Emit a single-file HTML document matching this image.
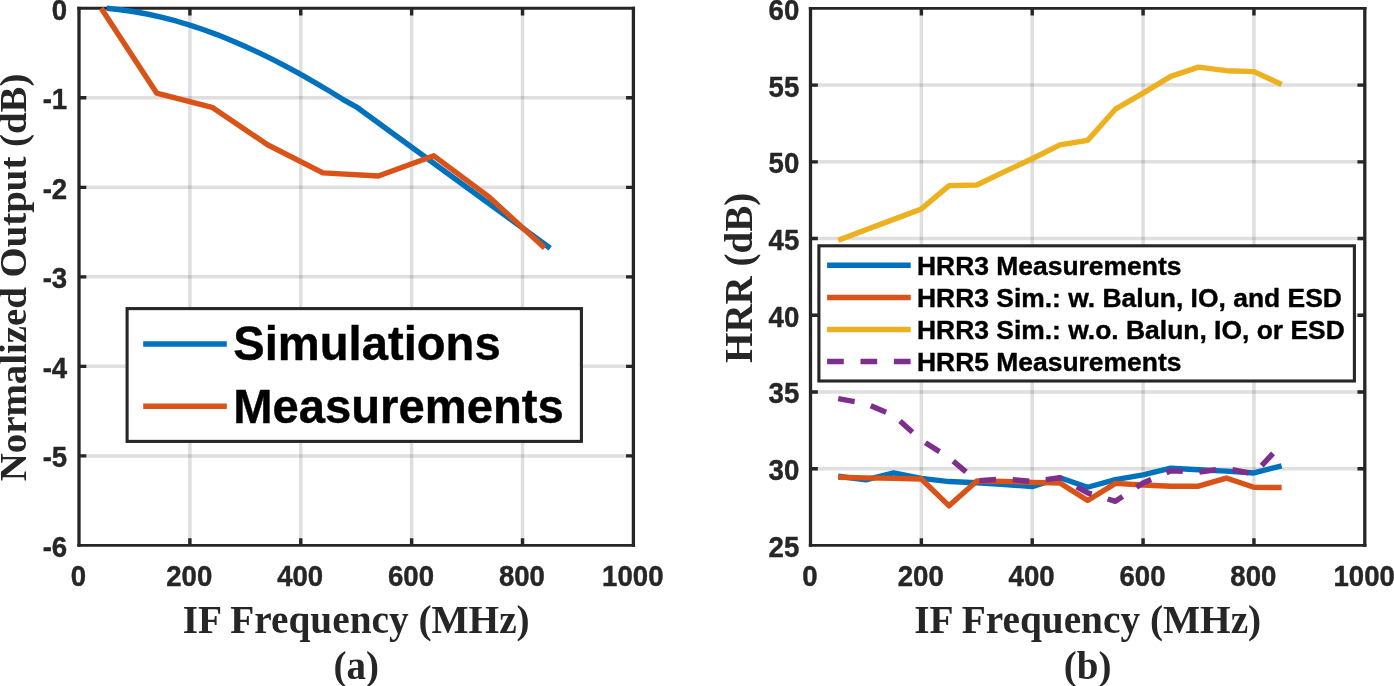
<!DOCTYPE html>
<html lang="en"><head><meta charset="utf-8"><title>IF response and HRR plots</title>
<style>
html,body{margin:0;padding:0;background:#fff;}
body{width:1394px;height:686px;overflow:hidden;}
svg{display:block;}
text{white-space:pre;}
</style></head>
<body>
<svg width="1394" height="686" viewBox="0 0 1394 686">
<rect width="1394" height="686" fill="#fff"/>
<path d="M189.88 8.3V545.4M300.76 8.3V545.4M411.64 8.3V545.4M522.52 8.3V545.4" stroke="#262626" stroke-opacity="0.15" stroke-width="3.5" fill="none"/>
<path d="M79 97.82H633.4M79 187.33H633.4M79 276.85H633.4M79 366.37H633.4M79 455.88H633.4" stroke="#262626" stroke-opacity="0.15" stroke-width="3.5" fill="none"/>
<path d="M189.88 545.4v-7.15M189.88 8.3v7.15M300.76 545.4v-7.15M300.76 8.3v7.15M411.64 545.4v-7.15M411.64 8.3v7.15M522.52 545.4v-7.15M522.52 8.3v7.15M79 97.82h7.35M633.4 97.82h-7.35M79 187.33h7.35M633.4 187.33h-7.35M79 276.85h7.35M633.4 276.85h-7.35M79 366.37h7.35M633.4 366.37h-7.35M79 455.88h7.35M633.4 455.88h-7.35" stroke="#262626" stroke-width="3.4" fill="none"/>
<path d="M79 6.85V546.85M633.4 6.85V546.85" stroke="#262626" stroke-width="3.3" fill="none"/>
<path d="M77.35 8.3H635.05M77.35 545.4H635.05" stroke="#262626" stroke-width="2.9" fill="none"/>
<path d="M921.36 8.4V545.4M1032.22 8.4V545.4M1143.08 8.4V545.4M1253.94 8.4V545.4" stroke="#262626" stroke-opacity="0.15" stroke-width="3.5" fill="none"/>
<path d="M810.5 85.11H1364.8M810.5 161.83H1364.8M810.5 238.54H1364.8M810.5 315.26H1364.8M810.5 391.97H1364.8M810.5 468.69H1364.8" stroke="#262626" stroke-opacity="0.15" stroke-width="3.5" fill="none"/>
<path d="M921.36 545.4v-7.15M921.36 8.4v7.15M1032.22 545.4v-7.15M1032.22 8.4v7.15M1143.08 545.4v-7.15M1143.08 8.4v7.15M1253.94 545.4v-7.15M1253.94 8.4v7.15M810.5 85.11h7.35M1364.8 85.11h-7.35M810.5 161.83h7.35M1364.8 161.83h-7.35M810.5 238.54h7.35M1364.8 238.54h-7.35M810.5 315.26h7.35M1364.8 315.26h-7.35M810.5 391.97h7.35M1364.8 391.97h-7.35M810.5 468.69h7.35M1364.8 468.69h-7.35" stroke="#262626" stroke-width="3.4" fill="none"/>
<path d="M810.5 6.95V546.85M1364.8 6.95V546.85" stroke="#262626" stroke-width="3.3" fill="none"/>
<path d="M808.85 8.4H1366.45M808.85 545.4H1366.45" stroke="#262626" stroke-width="2.9" fill="none"/>
<g>
<path d="M106.72 8.3 L120.58 9.73 L134.44 11.72 L148.3 14.26 L162.16 17.35 L176.02 20.97 L189.88 25.11 L203.74 29.74 L217.6 34.85 L231.46 40.42 L245.32 46.44 L259.18 52.87 L273.04 59.7 L286.9 66.91 L300.76 74.47 L314.62 82.35 L328.48 90.55 L342.34 99.02 L356.2 106.77 L550.24 248.2" stroke="#0072BD" stroke-width="5.4" fill="none" stroke-linejoin="round" />
<path d="M101.18 8.3 L156.62 93.07 L212.06 107.31 L267.5 144.72 L322.94 172.92 L378.38 175.96 L433.82 155.82 L489.26 197.18 L544.7 248.03" stroke="#D95319" stroke-width="5.4" fill="none" stroke-linejoin="round" />
<path d="M838.22 476.2 L865.93 479.89 L893.64 472.83 L921.36 478.35 L949.08 481.57 L976.79 482.8 L1004.5 484.49 L1032.22 486.64 L1059.93 477.74 L1087.65 487.25 L1115.37 479.58 L1143.08 474.82 L1170.8 468.23 L1198.51 469.76 L1226.22 471.14 L1253.94 472.98 L1281.65 465.77" stroke="#0072BD" stroke-width="5.4" fill="none" stroke-linejoin="round" />
<path d="M838.22 477.28 L865.93 477.89 L893.64 478.35 L921.36 478.97 L949.08 505.82 L976.79 480.96 L1004.5 481.42 L1032.22 482.34 L1059.93 482.95 L1087.65 500.45 L1115.37 483.41 L1143.08 484.95 L1170.8 486.18 L1198.51 486.18 L1226.22 478.04 L1253.94 487.25 L1281.65 487.56" stroke="#D95319" stroke-width="5.4" fill="none" stroke-linejoin="round" />
<path d="M838.22 240.23 L865.93 229.8 L893.64 219.36 L921.36 208.93 L949.08 185.61 L976.79 185 L1004.5 171.65 L1032.22 158.76 L1059.93 144.8 L1087.65 140.35 L1115.37 109.2 L1143.08 93.09 L1170.8 76.37 L1198.51 67.16 L1226.22 70.69 L1253.94 71.61 L1281.65 84.5" stroke="#EDB120" stroke-width="5.4" fill="none" stroke-linejoin="round" />
<path d="M838.22 398.57 L865.93 403.63 L893.64 415.45 L921.36 440.15 L949.08 457.64 L976.79 480.96 L1004.5 478.81 L1032.22 481.57 L1059.93 477.74 L1087.65 492.93 L1115.37 501.37 L1143.08 482.95 L1170.8 470.83 L1198.51 472.21 L1226.22 468.23 L1253.94 474.06 L1281.65 444.14" stroke="#7E2F8E" stroke-width="5.4" fill="none" stroke-linejoin="round" stroke-dasharray="16.7 16.7"/>
</g>
<rect x="127.1" y="308.6" width="454.3" height="132.8" fill="#fff" stroke="#262626" stroke-width="3.1"/>
<path d="M143.2 344.05H226.8" stroke="#0072BD" stroke-width="5.4" fill="none" />
<path d="M143.2 406.2H226.8" stroke="#D95319" stroke-width="5.4" fill="none" />
<rect x="818.9" y="245.8" width="535.5" height="135.2" fill="#fff" stroke="#262626" stroke-width="3.1"/>
<path d="M827.1 265.3H910.7" stroke="#0072BD" stroke-width="5.4" fill="none" />
<path d="M827.1 297.5H910.7" stroke="#D95319" stroke-width="5.4" fill="none" />
<path d="M827.1 329.5H910.7" stroke="#EDB120" stroke-width="5.4" fill="none" />
<path d="M827.1 361.5H910.7" stroke="#7E2F8E" stroke-width="5.4" fill="none" stroke-dasharray="16.7 16.7"/>

<text transform="translate(78.4 586.2) scale(1 1.09)" font-size="27.6" font-family="Liberation Sans, Arial, Helvetica, sans-serif" font-weight="700" text-anchor="middle" fill="#262626" stroke="#262626" stroke-width="0.4" stroke-linejoin="round">0</text>
<text transform="translate(189.28 586.2) scale(1 1.09)" font-size="27.6" font-family="Liberation Sans, Arial, Helvetica, sans-serif" font-weight="700" text-anchor="middle" fill="#262626" stroke="#262626" stroke-width="0.4" stroke-linejoin="round">200</text>
<text transform="translate(300.16 586.2) scale(1 1.09)" font-size="27.6" font-family="Liberation Sans, Arial, Helvetica, sans-serif" font-weight="700" text-anchor="middle" fill="#262626" stroke="#262626" stroke-width="0.4" stroke-linejoin="round">400</text>
<text transform="translate(411.04 586.2) scale(1 1.09)" font-size="27.6" font-family="Liberation Sans, Arial, Helvetica, sans-serif" font-weight="700" text-anchor="middle" fill="#262626" stroke="#262626" stroke-width="0.4" stroke-linejoin="round">600</text>
<text transform="translate(521.92 586.2) scale(1 1.09)" font-size="27.6" font-family="Liberation Sans, Arial, Helvetica, sans-serif" font-weight="700" text-anchor="middle" fill="#262626" stroke="#262626" stroke-width="0.4" stroke-linejoin="round">800</text>
<text transform="translate(632.8 586.2) scale(1 1.09)" font-size="27.6" font-family="Liberation Sans, Arial, Helvetica, sans-serif" font-weight="700" text-anchor="middle" fill="#262626" stroke="#262626" stroke-width="0.4" stroke-linejoin="round">1000</text>
<text transform="translate(67.2 19.7) scale(1 1.09)" font-size="27.6" font-family="Liberation Sans, Arial, Helvetica, sans-serif" font-weight="700" text-anchor="end" fill="#262626" stroke="#262626" stroke-width="0.4" stroke-linejoin="round">0</text>
<text transform="translate(67.2 109.22) scale(1 1.09)" font-size="27.6" font-family="Liberation Sans, Arial, Helvetica, sans-serif" font-weight="700" text-anchor="end" fill="#262626" stroke="#262626" stroke-width="0.4" stroke-linejoin="round">-1</text>
<text transform="translate(67.2 198.73) scale(1 1.09)" font-size="27.6" font-family="Liberation Sans, Arial, Helvetica, sans-serif" font-weight="700" text-anchor="end" fill="#262626" stroke="#262626" stroke-width="0.4" stroke-linejoin="round">-2</text>
<text transform="translate(67.2 288.25) scale(1 1.09)" font-size="27.6" font-family="Liberation Sans, Arial, Helvetica, sans-serif" font-weight="700" text-anchor="end" fill="#262626" stroke="#262626" stroke-width="0.4" stroke-linejoin="round">-3</text>
<text transform="translate(67.2 377.77) scale(1 1.09)" font-size="27.6" font-family="Liberation Sans, Arial, Helvetica, sans-serif" font-weight="700" text-anchor="end" fill="#262626" stroke="#262626" stroke-width="0.4" stroke-linejoin="round">-4</text>
<text transform="translate(67.2 467.28) scale(1 1.09)" font-size="27.6" font-family="Liberation Sans, Arial, Helvetica, sans-serif" font-weight="700" text-anchor="end" fill="#262626" stroke="#262626" stroke-width="0.4" stroke-linejoin="round">-5</text>
<text transform="translate(67.2 556.8) scale(1 1.09)" font-size="27.6" font-family="Liberation Sans, Arial, Helvetica, sans-serif" font-weight="700" text-anchor="end" fill="#262626" stroke="#262626" stroke-width="0.4" stroke-linejoin="round">-6</text>
<text x="356.2" y="632.7" font-size="39.3" font-family="Liberation Serif, Times New Roman, Times, serif" font-weight="700" text-anchor="middle" fill="#262626">IF Frequency (MHz)</text>
<text x="356.2" y="678.7" font-size="39" font-family="Liberation Serif, Times New Roman, Times, serif" font-weight="700" text-anchor="middle" fill="#262626">(a)</text>
<text x="26.1" y="277.45" font-size="38.85" font-family="Liberation Serif, Times New Roman, Times, serif" font-weight="700" text-anchor="middle" fill="#262626" transform="rotate(-90 26.1 277.45)">Normalized Output (dB)</text>
<text transform="translate(233.2 360.3) scale(1 1.015)" font-size="47.2" font-family="Liberation Sans, Arial, Helvetica, sans-serif" font-weight="700" text-anchor="start" fill="#000" stroke="#000" stroke-width="0.4" stroke-linejoin="round">Simulations</text>
<text transform="translate(233.2 423.2) scale(1 1.015)" font-size="47.2" font-family="Liberation Sans, Arial, Helvetica, sans-serif" font-weight="700" text-anchor="start" fill="#000" stroke="#000" stroke-width="0.4" stroke-linejoin="round">Measurements</text>
<text transform="translate(809.9 586.2) scale(1 1.09)" font-size="27.6" font-family="Liberation Sans, Arial, Helvetica, sans-serif" font-weight="700" text-anchor="middle" fill="#262626" stroke="#262626" stroke-width="0.4" stroke-linejoin="round">0</text>
<text transform="translate(920.76 586.2) scale(1 1.09)" font-size="27.6" font-family="Liberation Sans, Arial, Helvetica, sans-serif" font-weight="700" text-anchor="middle" fill="#262626" stroke="#262626" stroke-width="0.4" stroke-linejoin="round">200</text>
<text transform="translate(1031.62 586.2) scale(1 1.09)" font-size="27.6" font-family="Liberation Sans, Arial, Helvetica, sans-serif" font-weight="700" text-anchor="middle" fill="#262626" stroke="#262626" stroke-width="0.4" stroke-linejoin="round">400</text>
<text transform="translate(1142.48 586.2) scale(1 1.09)" font-size="27.6" font-family="Liberation Sans, Arial, Helvetica, sans-serif" font-weight="700" text-anchor="middle" fill="#262626" stroke="#262626" stroke-width="0.4" stroke-linejoin="round">600</text>
<text transform="translate(1253.34 586.2) scale(1 1.09)" font-size="27.6" font-family="Liberation Sans, Arial, Helvetica, sans-serif" font-weight="700" text-anchor="middle" fill="#262626" stroke="#262626" stroke-width="0.4" stroke-linejoin="round">800</text>
<text transform="translate(1364.2 586.2) scale(1 1.09)" font-size="27.6" font-family="Liberation Sans, Arial, Helvetica, sans-serif" font-weight="700" text-anchor="middle" fill="#262626" stroke="#262626" stroke-width="0.4" stroke-linejoin="round">1000</text>
<text transform="translate(799.3 19.8) scale(1 1.09)" font-size="27.6" font-family="Liberation Sans, Arial, Helvetica, sans-serif" font-weight="700" text-anchor="end" fill="#262626" stroke="#262626" stroke-width="0.4" stroke-linejoin="round">60</text>
<text transform="translate(799.3 96.51) scale(1 1.09)" font-size="27.6" font-family="Liberation Sans, Arial, Helvetica, sans-serif" font-weight="700" text-anchor="end" fill="#262626" stroke="#262626" stroke-width="0.4" stroke-linejoin="round">55</text>
<text transform="translate(799.3 173.23) scale(1 1.09)" font-size="27.6" font-family="Liberation Sans, Arial, Helvetica, sans-serif" font-weight="700" text-anchor="end" fill="#262626" stroke="#262626" stroke-width="0.4" stroke-linejoin="round">50</text>
<text transform="translate(799.3 249.94) scale(1 1.09)" font-size="27.6" font-family="Liberation Sans, Arial, Helvetica, sans-serif" font-weight="700" text-anchor="end" fill="#262626" stroke="#262626" stroke-width="0.4" stroke-linejoin="round">45</text>
<text transform="translate(799.3 326.66) scale(1 1.09)" font-size="27.6" font-family="Liberation Sans, Arial, Helvetica, sans-serif" font-weight="700" text-anchor="end" fill="#262626" stroke="#262626" stroke-width="0.4" stroke-linejoin="round">40</text>
<text transform="translate(799.3 403.37) scale(1 1.09)" font-size="27.6" font-family="Liberation Sans, Arial, Helvetica, sans-serif" font-weight="700" text-anchor="end" fill="#262626" stroke="#262626" stroke-width="0.4" stroke-linejoin="round">35</text>
<text transform="translate(799.3 480.09) scale(1 1.09)" font-size="27.6" font-family="Liberation Sans, Arial, Helvetica, sans-serif" font-weight="700" text-anchor="end" fill="#262626" stroke="#262626" stroke-width="0.4" stroke-linejoin="round">30</text>
<text transform="translate(799.3 556.8) scale(1 1.09)" font-size="27.6" font-family="Liberation Sans, Arial, Helvetica, sans-serif" font-weight="700" text-anchor="end" fill="#262626" stroke="#262626" stroke-width="0.4" stroke-linejoin="round">25</text>
<text x="1087.65" y="632.7" font-size="39.3" font-family="Liberation Serif, Times New Roman, Times, serif" font-weight="700" text-anchor="middle" fill="#262626">IF Frequency (MHz)</text>
<text x="1087.65" y="678.7" font-size="39" font-family="Liberation Serif, Times New Roman, Times, serif" font-weight="700" text-anchor="middle" fill="#262626">(b)</text>
<text x="752.5" y="277.9" font-size="39" font-family="Liberation Serif, Times New Roman, Times, serif" font-weight="700" text-anchor="middle" fill="#262626" transform="rotate(-90 752.5 277.9)">HRR (dB)</text>
<text transform="translate(917 274.9) scale(1 0.99)" font-size="26.45" font-family="Liberation Sans, Arial, Helvetica, sans-serif" font-weight="700" text-anchor="start" fill="#000" stroke="#000" stroke-width="0.4" stroke-linejoin="round">HRR3 Measurements</text>
<text transform="translate(917 307.1) scale(1 0.99)" font-size="26.45" font-family="Liberation Sans, Arial, Helvetica, sans-serif" font-weight="700" text-anchor="start" fill="#000" stroke="#000" stroke-width="0.4" stroke-linejoin="round">HRR3 Sim.: w. Balun, IO, and ESD</text>
<text transform="translate(917 339.1) scale(1 0.99)" font-size="26.45" font-family="Liberation Sans, Arial, Helvetica, sans-serif" font-weight="700" text-anchor="start" fill="#000" stroke="#000" stroke-width="0.4" stroke-linejoin="round">HRR3 Sim.: w.o. Balun, IO, or ESD</text>
<text transform="translate(917 371.1) scale(1 0.99)" font-size="26.45" font-family="Liberation Sans, Arial, Helvetica, sans-serif" font-weight="700" text-anchor="start" fill="#000" stroke="#000" stroke-width="0.4" stroke-linejoin="round">HRR5 Measurements</text>
</svg>
</body></html>
